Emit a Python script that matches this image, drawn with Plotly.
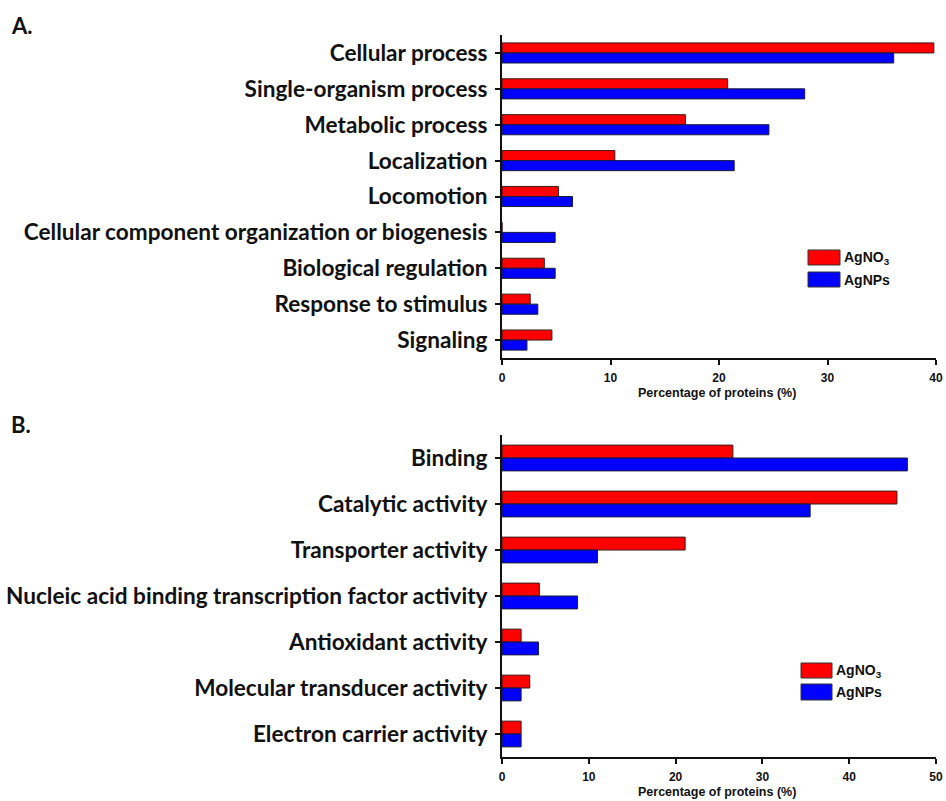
import plotly.graph_objects as go

# Panel A: biological process
cats_a = ["Cellular process", "Single-organism process", "Metabolic process", "Localization",
          "Locomotion", "Cellular component organization or biogenesis", "Biological regulation",
          "Response to stimulus", "Signaling"]
agno3_a = [39.8, 20.8, 16.9, 10.4, 5.2, 0.0, 3.9, 2.6, 4.6]
agnps_a = [36.1, 27.9, 24.6, 21.4, 6.5, 4.9, 4.9, 3.3, 2.3]

# Panel B: molecular function
cats_b = ["Binding", "Catalytic activity", "Transporter activity",
          "Nucleic acid binding transcription factor activity", "Antioxidant activity",
          "Molecular transducer activity", "Electron carrier activity"]
agno3_b = [26.6, 45.5, 21.1, 4.3, 2.2, 3.2, 2.2]
agnps_b = [46.7, 35.5, 11.0, 8.7, 4.2, 2.2, 2.2]

ticks_a = [0, 10, 20, 30, 40]
ticks_b = [0, 10, 20, 30, 40, 50]
series_names = ["AgNO<sub>3</sub>", "AgNPs"]
x_title = "Percentage of proteins (%)"
RED, BLUE = "#FF0000", "#0000FF"
EDGE_R = "#3a1a1a"
EDGE_B = "#1a1a3a"

W, H = 946, 801
def px(x):
    return x / W
def py(y):
    return 1 - y / H

fig = go.Figure()
fig.add_trace(go.Bar(y=cats_a, x=agno3_a, orientation="h", marker=dict(color=RED, line=dict(color=EDGE_R, width=1)),
                     name="AgNO3", xaxis="x", yaxis="y", showlegend=False))
fig.add_trace(go.Bar(y=cats_a, x=agnps_a, orientation="h", marker=dict(color=BLUE, line=dict(color=EDGE_B, width=1)),
                     name="AgNPs", xaxis="x", yaxis="y", showlegend=False))
fig.add_trace(go.Bar(y=cats_b, x=agno3_b, orientation="h", marker=dict(color=RED, line=dict(color=EDGE_R, width=1)),
                     name="AgNO3", xaxis="x2", yaxis="y2", showlegend=False))
fig.add_trace(go.Bar(y=cats_b, x=agnps_b, orientation="h", marker=dict(color=BLUE, line=dict(color=EDGE_B, width=1)),
                     name="AgNPs", xaxis="x2", yaxis="y2", showlegend=False))

label_font = dict(family="Lato", size=22.6, color="#111111")
tick_font = dict(family="Arial, Liberation Sans", size=12, color="#111111")
title_font = dict(family="Arial, Liberation Sans", size=12.5, color="#111111")

def xax(domain, anchor, rng, tickvals):
    return dict(domain=domain, anchor=anchor, range=rng, tickvals=tickvals,
                ticktext=[f"<b>{t}</b>" for t in tickvals],
                showline=True, linecolor="#111111", linewidth=2, ticks="outside", ticklen=5,
                tickwidth=2, tickcolor="#111111", showgrid=False, zeroline=False, tickfont=tick_font,
                ticklabelstandoff=3, automargin=False, fixedrange=True)

def yax(domain, anchor, cats):
    return dict(domain=domain, anchor=anchor, type="category", autorange="reversed",
                categoryorder="array", categoryarray=cats,
                tickvals=cats, ticktext=[f"<b>{c}</b>" for c in cats],
                showline=True, linecolor="#111111", linewidth=2, ticks="outside", ticklen=5,
                tickwidth=2, tickcolor="#111111", showgrid=False, zeroline=False,
                tickfont=label_font, ticklabelstandoff=3, automargin=False, fixedrange=True)

xdom = [px(502), px(936)]
fig.update_layout(
    width=W, height=H, margin=dict(l=0, r=0, t=0, b=0),
    paper_bgcolor="white", plot_bgcolor="white",
    barmode="group", bargap=0.44, bargroupgap=0.0,
    xaxis=xax(xdom, "y", [0, 40], ticks_a),
    yaxis=yax([py(358), py(35)], "x", cats_a),
    xaxis2=xax(xdom, "y2", [0, 50], ticks_b),
    yaxis2=yax([py(757), py(435)], "x2", cats_b),
    showlegend=False,
)

shapes = []
annotations = []
# legends
for (x0, x1, ys) in [(808, 840, [(250, 265), (272, 287)]), (801, 832, [(663, 678), (684, 700)])]:
    for (y0, y1), col, nm in zip(ys, [RED, BLUE], series_names):
        shapes.append(dict(type="rect", xref="paper", yref="paper", x0=px(x0), x1=px(x1),
                           y0=py(y1), y1=py(y0), fillcolor=col, line=dict(color="#333333", width=1)))
        annotations.append(dict(xref="paper", yref="paper", x=px(x1 + 2), y=py((y0 + y1) / 2),
                                xanchor="left", yanchor="middle", showarrow=False,
                                text=f"<b>{nm}</b>", font=dict(family="Arial, Liberation Sans", size=14, color="#111111")))
# axis titles
for yc in (393, 792):
    annotations.append(dict(xref="paper", yref="paper", x=px(717), y=py(yc), xanchor="center", yanchor="middle",
                            showarrow=False, text=f"<b>{x_title}</b>", font=title_font))
# panel labels
annotations.append(dict(xref="paper", yref="paper", x=px(9), y=py(26), xanchor="left", yanchor="middle",
                        showarrow=False, text="<b>A.</b>", font=dict(family="Lato", size=22, color="#111111")))
annotations.append(dict(xref="paper", yref="paper", x=px(9), y=py(425), xanchor="left", yanchor="middle",
                        showarrow=False, text="<b>B.</b>", font=dict(family="Lato", size=22, color="#111111")))
fig.update_layout(shapes=shapes, annotations=annotations)

fig.write_html("out.html", config={"displayModeBar": False},
               post_script="document.body.style.margin='0';document.body.style.overflow='hidden';")
